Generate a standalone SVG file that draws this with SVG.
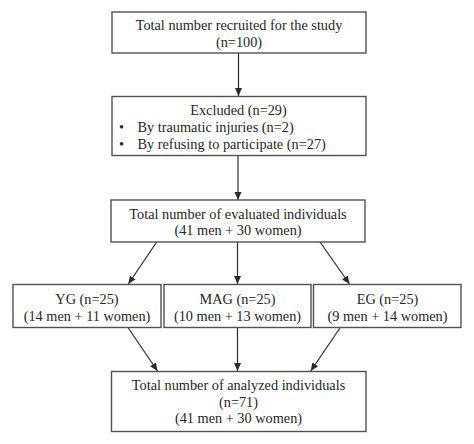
<svg xmlns="http://www.w3.org/2000/svg" width="474" height="444" viewBox="0 0 474 444">
<style>
.box{fill:#fff;stroke:#505050;stroke-width:1.4}
.t{font-family:"Liberation Serif","Times New Roman",serif;font-size:14.3px;fill:#262626;text-anchor:middle}
.l{text-anchor:start}
.c{stroke:#2a2a2a;stroke-width:1.2;fill:none;marker-end:url(#ah)}
</style>
<defs>
<marker id="ah" markerUnits="userSpaceOnUse" markerWidth="9" markerHeight="9" refX="8" refY="4.5" orient="auto">
<path d="M0,1 L8,4.5 L0,8 Z" fill="#2a2a2a"/>
</marker>
</defs>
<rect width="474" height="444" fill="#fff"/>
<g id="connectors">
<line class="c" x1="238.5" y1="53" x2="238.5" y2="96"/>
<line class="c" x1="238" y1="156" x2="238" y2="200"/>
<line class="c" x1="156.7" y1="242" x2="128.3" y2="284"/>
<line class="c" x1="237.5" y1="242" x2="237.5" y2="284"/>
<line class="c" x1="320" y1="242" x2="349.5" y2="284"/>
<line class="c" x1="128.3" y1="328" x2="157.5" y2="371"/>
<line class="c" x1="237.5" y1="328" x2="237.5" y2="371"/>
<line class="c" x1="340" y1="328" x2="310.7" y2="371"/>
</g>
<g id="recruited">
<rect class="box" x="112" y="12" width="254" height="41"/>
<text class="t" x="239" y="30">Total number recruited for the study</text>
<text class="t" x="239" y="46.5">(n=100)</text>
</g>
<g id="excluded">
<rect class="box" x="112" y="96.5" width="254" height="59"/>
<text class="t" x="238.5" y="115">Excluded (n=29)</text>
<text class="t l" x="119" y="132">•</text>
<text class="t l" x="137.5" y="132">By traumatic injuries (n=2)</text>
<text class="t l" x="119" y="149">•</text>
<text class="t l" x="137.5" y="149">By refusing to participate (n=27)</text>
</g>
<g id="evaluated">
<rect class="box" x="111" y="200" width="254" height="42"/>
<text class="t" x="238" y="218.5">Total number of evaluated individuals</text>
<text class="t" x="238" y="235">(41 men + 30 women)</text>
</g>
<g id="yg">
<rect class="box" x="13" y="284.5" width="148" height="43"/>
<text class="t" x="87" y="304">YG (n=25)</text>
<text class="t" x="87" y="320.5">(14 men + 11 women)</text>
</g>
<g id="mag">
<rect class="box" x="164" y="284.5" width="147" height="43"/>
<text class="t" x="237.5" y="304">MAG (n=25)</text>
<text class="t" x="237.5" y="320.5">(10 men + 13 women)</text>
</g>
<g id="eg">
<rect class="box" x="313.5" y="284.5" width="147.5" height="43"/>
<text class="t" x="387.5" y="304">EG (n=25)</text>
<text class="t" x="387.5" y="320.5">(9 men + 14 women)</text>
</g>
<g id="analyzed">
<rect class="box" x="111.5" y="371.5" width="254.5" height="60"/>
<text class="t" x="238.5" y="390">Total number of analyzed individuals</text>
<text class="t" x="238.5" y="406.5">(n=71)</text>
<text class="t" x="238.5" y="423">(41 men + 30 women)</text>
</g>
</svg>
